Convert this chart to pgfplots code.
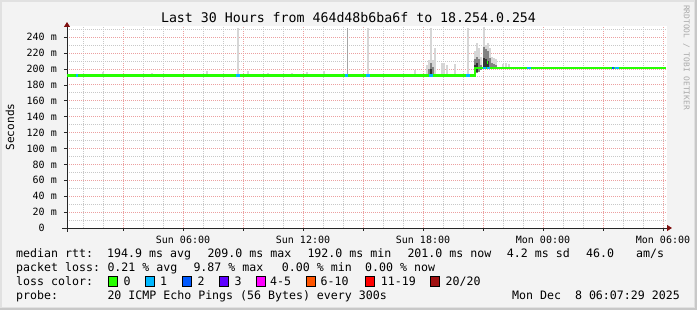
\documentclass[border=0pt]{standalone}
\usepackage{fontspec}
\setmainfont{DejaVu Sans Mono}
\usepackage{pgfplots}
\usepackage{pgfplotstable}
\pgfplotsset{compat=1.18}
\usetikzlibrary{arrows.meta}
\definecolor{bgc}{RGB}{243,243,243}
\definecolor{frameL}{RGB}{225,225,225}
\definecolor{frameD}{RGB}{200,200,200}
\definecolor{mgridc}{RGB}{236,160,160}
\definecolor{gridc}{RGB}{200,200,200}
\definecolor{lc0}{RGB}{38,255,0}
\definecolor{lc1}{RGB}{0,184,255}
\definecolor{lc2}{RGB}{0,89,255}
\definecolor{lc3}{RGB}{94,0,255}
\definecolor{lc4}{RGB}{255,0,255}
\definecolor{lc6}{RGB}{255,85,0}
\definecolor{lc11}{RGB}{255,0,0}
\definecolor{lc20}{RGB}{160,16,16}
\definecolor{arrowc}{RGB}{128,16,16}
\definecolor{smokeL}{RGB}{214,214,214}
\definecolor{smokeT}{RGB}{165,165,165}
\definecolor{smokeM}{RGB}{130,130,130}
\definecolor{smokeD}{RGB}{50,50,50}
\definecolor{wmark}{RGB}{170,170,170}

% light smoke: x (hours since Sun 00:00), base, top (ms)
\pgfplotstableread{
x b t
2.0 192 196
4.45 192 195
7.2 192 197
8.73 192 252
9.25 192 197
10.25 192 195
11.45 192 195
12.2 192 196
13.05 192 197
15.25 192 252
17.6 192 199
18.2 192 205
18.3 192 211
18.4 192 252
18.5 192 211
18.6 192 226
18.95 192 207
19.05 192 207
19.2 192 205
19.6 192 206
20.25 192 251
20.6 192 222
20.7 197 232
20.8 198 226
20.9 200 215
21.05 201 253
21.15 201 230
21.25 201 232
21.35 201 226
21.45 201 215
21.55 201 214
21.65 201 212
22.0 201 206
22.15 201 208
22.3 201 206
29.85 201 203
}\smokelight
% thin spike
\pgfplotstableread{
x b t
14.2 192 252
}\smokethin
% mid smoke
\pgfplotstableread{
x b t
18.3 192 200
18.4 192 208
18.5 192 203
20.6 192 212
20.7 195 215
20.8 196 212
20.9 199 205
21.05 201 228
21.15 201 225
21.25 201 222
21.35 201 214
21.45 201 208
21.55 201 206
21.65 201 205
}\smokemid
% dark smoke
\pgfplotstableread{
x b t
18.4 192 200
20.6 192 205
20.7 196 207
21.05 201 214
21.15 201 212
21.25 201 210
}\smokedark

\begin{document}
\begin{tikzpicture}
\fill[frameD] (0pt,0pt) rectangle (697pt,310pt);
\fill[frameL] (0pt,2pt) rectangle (695pt,310pt);
\fill[bgc] (2pt,3pt) rectangle (694pt,308pt);

\node[anchor=base, inner sep=0pt, font=\fontsize{13.25}{14}\selectfont] at (348.5pt,287pt) {Last 30 Hours from 464d48b6ba6f to 18.254.0.254};
\node[anchor=west, rotate=-90, inner sep=0pt, text=wmark, font=\fontsize{7.9}{8}\selectfont] at (686.5pt,305pt) {RRDTOOL / TOBI OETIKER};

\begin{axis}[
  at={(67pt,82pt)}, anchor=south west,
  scale only axis, width=600pt, height=202pt,
  xmin=0.2, xmax=30.2, ymin=0, ymax=254,
  axis background/.style={fill=white},
  axis x line=bottom, axis y line=left,
  axis line style={draw=black!85, line width=0.8pt},
  x axis line style={-{Triangle[length=5pt,width=6pt,color=arrowc]}, shorten >=-5pt, shorten <=-5pt},
  y axis line style={-{Triangle[length=5pt,width=6pt,color=arrowc]}, shorten >=-4pt, shorten <=-4pt},
  xtick={3,6,...,30},
  xticklabels={,Sun 06:00,,Sun 12:00,,Sun 18:00,,Mon 00:00,,Mon 06:00},
  minor xtick={1,2,4,5,7,8,10,11,13,14,16,17,19,20,22,23,25,26,28,29},
  ytick={0,20,...,240},
  yticklabels={0\phantom{\ m},20 m,40 m,60 m,80 m,100 m,120 m,140 m,160 m,180 m,200 m,220 m,240 m},
  minor ytick={10,30,...,250},
  grid=both,
  major grid style={draw=mgridc, dash pattern=on 1pt off 1pt, line width=0.8pt},
  minor grid style={draw=gridc, dash pattern=on 1pt off 1pt, line width=0.8pt},
  tick align=outside,
  major tick length=3pt, minor tick length=0pt,
  tick style={draw=black!85, line width=0.6pt},
  xticklabel style={font=\fontsize{10}{10}\selectfont, anchor=base, inner sep=0pt, yshift=-13pt},
  yticklabel style={font=\fontsize{10}{10}\selectfont, anchor=east, inner sep=0pt, xshift=-7pt},
  ylabel={Seconds},
  every axis y label/.style={at={(axis description cs:-0.095,0.5)}, rotate=90, anchor=center, font=\fontsize{11.1}{11}\selectfont},
  clip=true,
]
\addplot[draw=none, mark=none, forget plot, error bars/.cd, y dir=plus, y explicit, error mark=none,
  error bar style={draw=smokeL, line width=2pt}]
  table[x=x, y=b, y error expr=\thisrow{t}-\thisrow{b}] {\smokelight};
\addplot[draw=none, mark=none, forget plot, error bars/.cd, y dir=plus, y explicit, error mark=none,
  error bar style={draw=smokeT, line width=1pt}]
  table[x=x, y=b, y error expr=\thisrow{t}-\thisrow{b}] {\smokethin};
\addplot[draw=none, mark=none, forget plot, error bars/.cd, y dir=plus, y explicit, error mark=none,
  error bar style={draw=smokeM, line width=2pt}]
  table[x=x, y=b, y error expr=\thisrow{t}-\thisrow{b}] {\smokemid};
\addplot[draw=none, mark=none, forget plot, error bars/.cd, y dir=plus, y explicit, error mark=none,
  error bar style={draw=smokeD, line width=2pt}]
  table[x=x, y=b, y error expr=\thisrow{t}-\thisrow{b}] {\smokedark};
% median rtt (loss 0)
\addplot[lc0, line width=2.6pt, mark=none] coordinates {(0.2,192) (20.6,192) (20.6,201) (30.15,201)};
\addplot[lc0, line width=2.6pt, mark=none] coordinates {(21.18,208) (21.26,208)};
% loss 1 segments
\addplot[lc1, line width=2.6pt, mark=none, unbounded coords=jump] coordinates {
(0.65,192) (0.75,192) (0.7,nan)
(8.65,192) (8.85,192) (8.7,nan)
(14.1,192) (14.25,192) (14.2,nan)
(15.15,192) (15.35,192) (15.2,nan)
(18.3,192) (18.5,192) (18.4,nan)
(20.15,192) (20.35,192) (20.2,nan)
(21.0,201) (21.15,201) (21.1,nan)
(21.2,201) (21.35,201) (21.3,nan)
(23.2,201) (23.4,201) (23.3,nan)
(27.6,201) (27.8,201)
};
% loss 2 segment
\addplot[lc2, line width=2.6pt, mark=none] coordinates {(27.45,201) (27.57,201)};
\end{axis}

\begin{scope}[every node/.style={anchor=base west, inner sep=0pt, font=\fontsize{11.6}{12}\selectfont}]
% line 1
\node at (16pt,52.5pt) {median rtt:};
\node at (107pt,52.5pt) {194.9 ms avg};
\node at (207.3pt,52.5pt) {209.0 ms max};
\node at (307.3pt,52.5pt) {192.0 ms min};
\node at (407.3pt,52.5pt) {201.0 ms now};
\node at (506.7pt,52.5pt) {4.2 ms sd};
\node at (586pt,52.5pt) {46.0};
\node at (636pt,52.5pt) {am/s};
% line 2
\node at (16pt,38.2pt) {packet loss:};
\node at (107.3pt,38.2pt) {0.21 \% avg};
\node at (193.3pt,38.2pt) {9.87 \% max};
\node at (281.7pt,38.2pt) {0.00 \% min};
\node at (365pt,38.2pt) {0.00 \% now};
% line 3
\node at (16pt,24pt) {loss color:};
\node at (123.3pt,24pt) {0};
\node at (160pt,24pt) {1};
\node at (197.3pt,24pt) {2};
\node at (234.3pt,24pt) {3};
\node at (270pt,24pt) {4-5};
\node at (320.5pt,24pt) {6-10};
\node at (380.7pt,24pt) {11-19};
\node at (445.5pt,24pt) {20/20};
% line 4
\node at (16pt,10pt) {probe:};
\node at (107.3pt,10pt) {20 ICMP Echo Pings (56 Bytes) every 300s};
\node[anchor=base east] at (680pt,10pt) {Mon Dec\ \ 8 06:07:29 2025};
\end{scope}
\foreach \bx/\bc in {108.3/lc0,145.3/lc1,182/lc2,219/lc3,256/lc4,306.7/lc6,365/lc11,430.5/lc20}{
  \filldraw[fill=\bc, draw=black, line width=0.9pt] (\bx pt,23.7pt) rectangle ++(9pt,10pt);
}
\end{tikzpicture}
\end{document}
